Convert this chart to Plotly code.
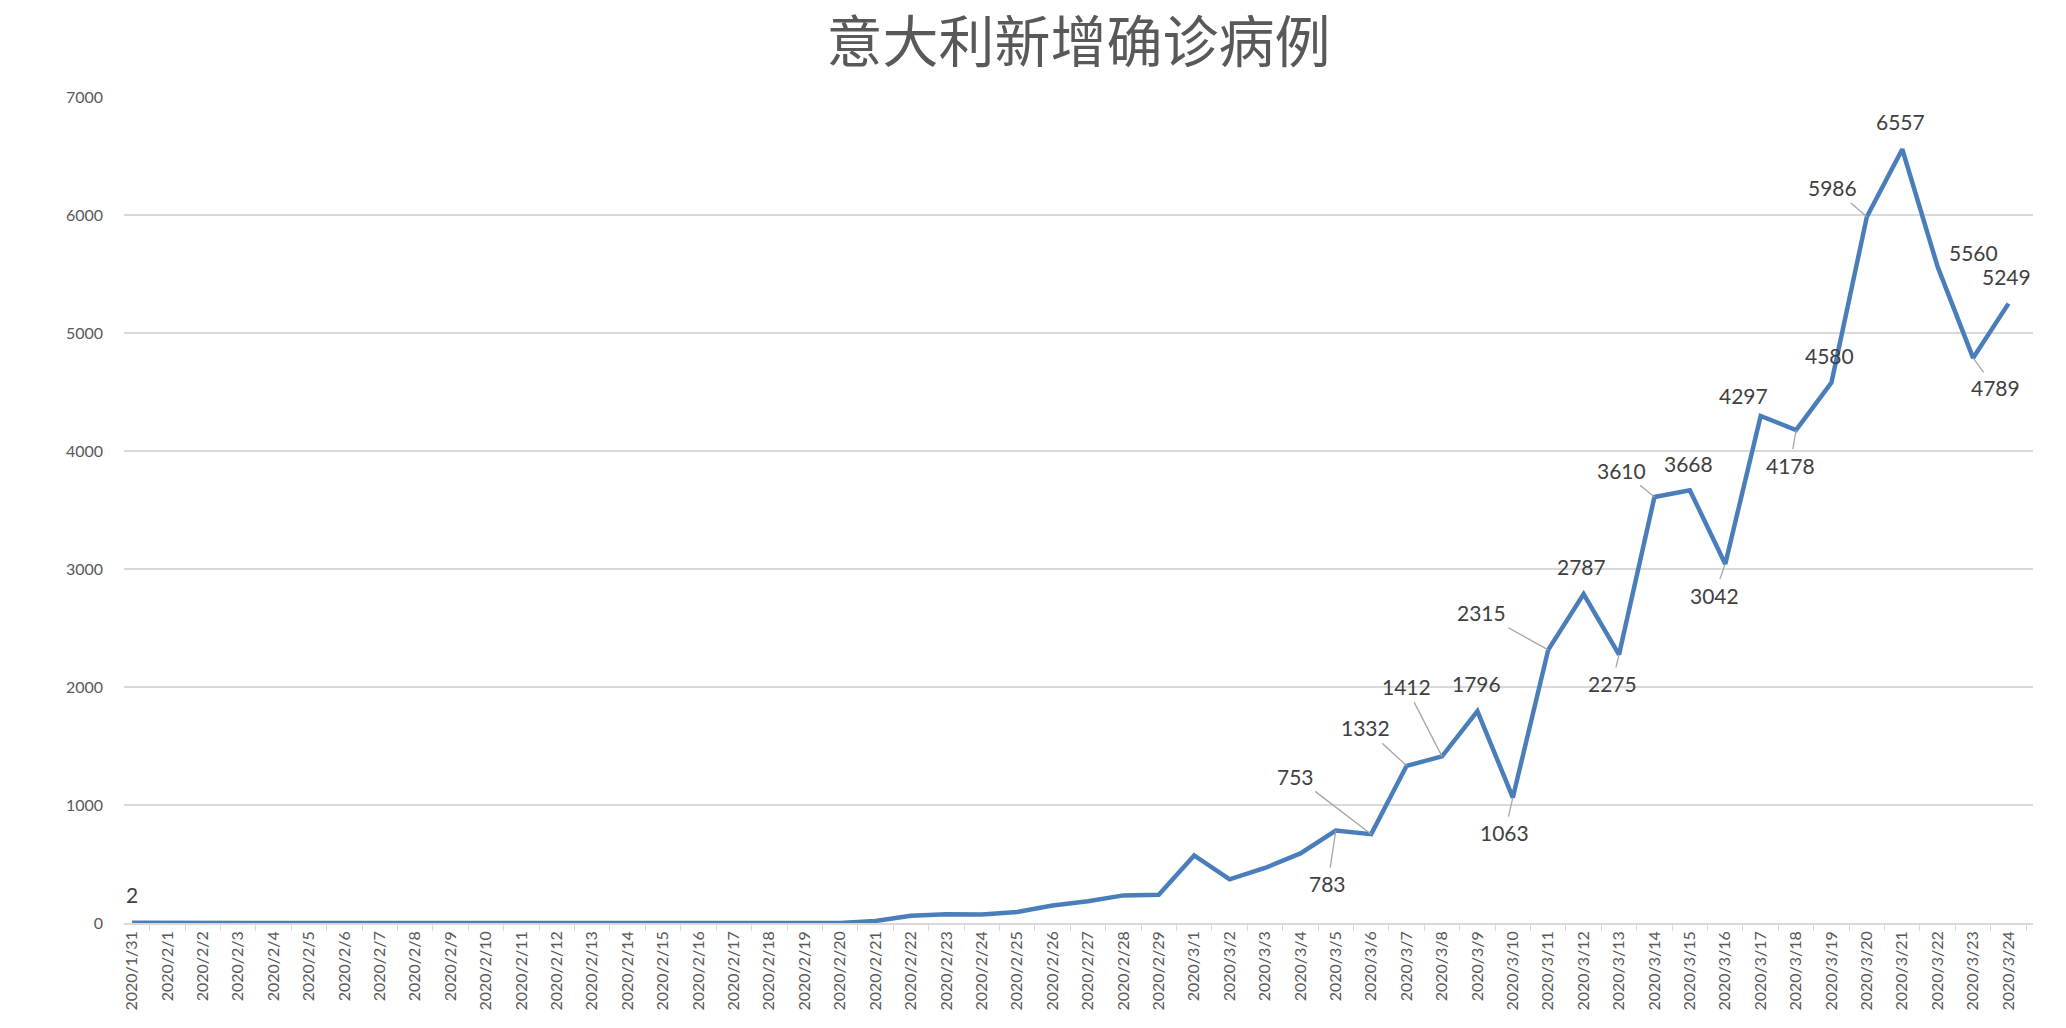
import plotly.graph_objects as go

# ---------------- data ----------------
dates = [
    "2020/1/31",
    "2020/2/1", "2020/2/2", "2020/2/3", "2020/2/4", "2020/2/5", "2020/2/6", "2020/2/7",
    "2020/2/8", "2020/2/9", "2020/2/10", "2020/2/11", "2020/2/12", "2020/2/13", "2020/2/14",
    "2020/2/15", "2020/2/16", "2020/2/17", "2020/2/18", "2020/2/19", "2020/2/20", "2020/2/21",
    "2020/2/22", "2020/2/23", "2020/2/24", "2020/2/25", "2020/2/26", "2020/2/27", "2020/2/28",
    "2020/2/29",
    "2020/3/1", "2020/3/2", "2020/3/3", "2020/3/4", "2020/3/5", "2020/3/6", "2020/3/7",
    "2020/3/8", "2020/3/9", "2020/3/10", "2020/3/11", "2020/3/12", "2020/3/13", "2020/3/14",
    "2020/3/15", "2020/3/16", "2020/3/17", "2020/3/18", "2020/3/19", "2020/3/20", "2020/3/21",
    "2020/3/22", "2020/3/23", "2020/3/24",
]

new_cases = [
    2,
    0, 0, 0, 0, 0, 0, 0,
    0, 0, 0, 0, 0, 0, 0,
    0, 0, 0, 0, 0, 0, 17,
    62, 74, 72, 93, 148, 185, 234,
    239,
    573, 370, 466, 590, 783, 753, 1332,
    1412, 1796, 1063, 2315, 2787, 2275, 3610,
    3668, 3042, 4297, 4178, 4580, 5986, 6557,
    5560, 4789, 5249,
]

labeled_dates = [
    "2020/1/31", "2020/3/5", "2020/3/6", "2020/3/7", "2020/3/8", "2020/3/9", "2020/3/10",
    "2020/3/11", "2020/3/12", "2020/3/13", "2020/3/14", "2020/3/15", "2020/3/16",
    "2020/3/17", "2020/3/18", "2020/3/19", "2020/3/20", "2020/3/21", "2020/3/22",
    "2020/3/23", "2020/3/24",
]

title_text = "意大利新增确诊病例"

# ---------------- label placement (style) ----------------
# (dx, dy in px relative to the point, draw leader line?)
label_style = {
    "2020/1/31": (0, -28, False),
    "2020/3/5": (-8, 53, True),
    "2020/3/6": (-76, -58, True),
    "2020/3/7": (-41, -38, True),
    "2020/3/8": (-36, -70, True),
    "2020/3/9": (-1, -28, False),
    "2020/3/10": (-8, 35, True),
    "2020/3/11": (-67, -37, True),
    "2020/3/12": (-2, -28, False),
    "2020/3/13": (-7, 29, True),
    "2020/3/14": (-33, -27, True),
    "2020/3/15": (-1, -27, False),
    "2020/3/16": (-11, 31, True),
    "2020/3/17": (-17, -20, False),
    "2020/3/18": (-6, 35, True),
    "2020/3/19": (-2, -27, False),
    "2020/3/20": (-34, -29, True),
    "2020/3/21": (-2, -28, False),
    "2020/3/22": (36, -14, False),
    "2020/3/23": (22, 30, True),
    "2020/3/24": (-2, -27, False),
}

LINE_COLOR = "#4A7EBB"
GRID_COLOR = "#D9D9D9"
TEXT_GRAY = "#595959"
LABEL_COLOR = "#404040"
LEADER_COLOR = "#A6A6A6"
LABEL_FONT = dict(family="Lato, Carlito, sans-serif", size=21, color=LABEL_COLOR)

fig = go.Figure()
fig.add_trace(go.Scatter(
    x=dates, y=new_cases, mode="lines",
    line=dict(color=LINE_COLOR, width=4.5),
    hoverinfo="x+y", showlegend=False,
))

annotations = []
value_by_date = dict(zip(dates, new_cases))
for d in labeled_dates:
    v = value_by_date[d]
    dx, dy, leader = label_style[d]
    if leader:
        annotations.append(dict(
            x=d, y=v, xref="x", yref="y", text=str(v),
            showarrow=True, arrowhead=0, arrowwidth=1.3, arrowcolor=LEADER_COLOR,
            ax=dx, ay=dy, standoff=0, startstandoff=2,
            font=LABEL_FONT,
        ))
    else:
        annotations.append(dict(
            x=d, y=v, xref="x", yref="y", text=str(v),
            showarrow=False, xshift=dx, yshift=-dy,
            font=LABEL_FONT,
        ))

fig.update_layout(
    width=2066, height=1028,
    margin=dict(l=124, r=33, t=97, b=105, pad=0),
    paper_bgcolor="white", plot_bgcolor="white",
    title=dict(
        text=title_text, x=0.5, xref="paper", xanchor="center",
        y=1 - 42 / 1028, yref="container", yanchor="middle",
        font=dict(family="Liberation Sans, Noto Sans CJK SC", size=56, color=TEXT_GRAY),
    ),
    annotations=annotations,
    xaxis=dict(
        type="category", tickangle=-90, showgrid=False,
        showline=True, linecolor=GRID_COLOR, linewidth=1.5,
        ticks="outside", ticklen=6, tickcolor=GRID_COLOR, tickwidth=1.3,
        tickson="boundaries",
        tickfont=dict(family="Lato, Carlito, sans-serif", size=16, color=TEXT_GRAY),
        zeroline=False, fixedrange=True,
    ),
    yaxis=dict(
        range=[0, 7000], dtick=1000, showgrid=True, gridcolor=GRID_COLOR, gridwidth=1.5,
        showline=False, zeroline=False, ticks="", ticklabelstandoff=20,
        tickfont=dict(family="Lato, Carlito, sans-serif", size=16, color=TEXT_GRAY),
        fixedrange=True,
    ),
)

fig.write_html(
    "out.html",
    config={"displayModeBar": False},
    post_script="document.body.style.margin='0';document.body.style.overflow='hidden';",
)
